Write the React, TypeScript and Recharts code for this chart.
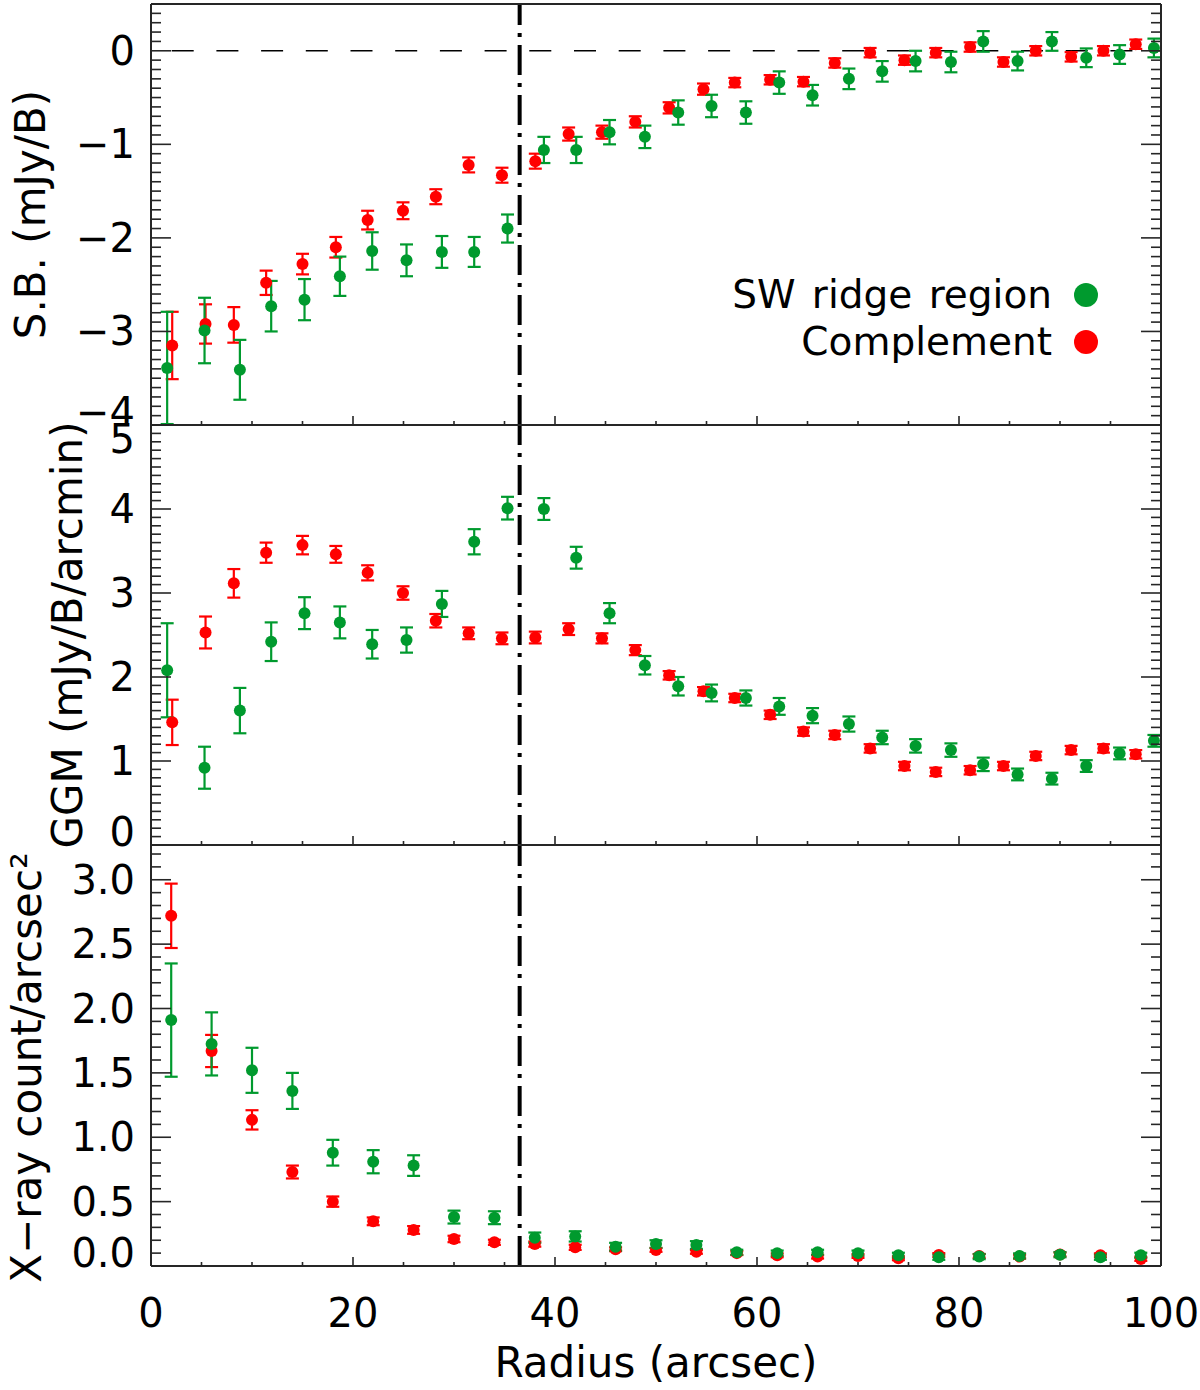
import React from 'react';
import { ScatterChart, Scatter, XAxis, YAxis, ErrorBar, ReferenceLine, Legend } from 'recharts';

const GREEN = '#009a2e';
const RED = '#ff0000';
const INK = '#000000';
const FRAME = '#262626';
const FONT = '"DejaVu Sans", "Liberation Sans", sans-serif';

// ---------- radius (x) values ----------
const greenRadius = [1.6, 5.3, 8.8, 11.9, 15.2, 18.7, 21.9, 25.3, 28.8, 32.0, 35.3, 38.9, 42.1, 45.4, 48.9,
  52.2, 55.5, 58.9, 62.2, 65.5, 69.1, 72.4, 75.7, 79.2, 82.4, 85.8, 89.2, 92.6, 95.9, 99.3];
const redRadius = [2.1, 5.4, 8.2, 11.4, 15.0, 18.3, 21.45, 24.95, 28.2, 31.45, 34.75, 38.05, 41.35, 44.65, 47.95,
  51.3, 54.7, 57.8, 61.3, 64.6, 67.7, 71.2, 74.6, 77.7, 81.1, 84.4, 87.6, 91.1, 94.3, 97.5];
const xrayRadius = [2, 6, 10, 14, 18, 22, 26, 30, 34, 38, 42, 46, 50, 54, 58, 62, 66, 70, 74, 78, 82, 86, 90, 94, 98];

// ---------- panel 1: surface brightness ----------
const sbGreen = [-3.39, -2.99, -3.41, -2.73, -2.66, -2.41, -2.14, -2.24, -2.15, -2.15, -1.90, -1.06, -1.06, -0.87, -0.92,
  -0.66, -0.59, -0.66, -0.34, -0.475, -0.30, -0.22, -0.11, -0.12, 0.10, -0.11, 0.10, -0.075, -0.04, 0.03];
const sbGreenErr = [0.6, 0.35, 0.32, 0.27, 0.22, 0.21, 0.2, 0.17, 0.17, 0.16, 0.15, 0.14, 0.14, 0.13, 0.12,
  0.13, 0.12, 0.12, 0.12, 0.11, 0.11, 0.11, 0.11, 0.11, 0.11, 0.1, 0.1, 0.1, 0.1, 0.1];
const sbRed = [-3.15, -2.92, -2.93, -2.48, -2.28, -2.10, -1.81, -1.71, -1.56, -1.22, -1.33, -1.18, -0.89, -0.87, -0.76,
  -0.61, -0.41, -0.34, -0.31, -0.33, -0.13, -0.02, -0.10, -0.02, 0.04, -0.12, 0.0, -0.065, 0.0, 0.07];
const sbRedErr = [0.36, 0.21, 0.19, 0.13, 0.11, 0.11, 0.1, 0.09, 0.08, 0.08, 0.08, 0.08, 0.07, 0.07, 0.06,
  0.06, 0.06, 0.05, 0.05, 0.05, 0.05, 0.05, 0.05, 0.05, 0.05, 0.05, 0.05, 0.05, 0.05, 0.05];

// ---------- panel 2: GGM ----------
const ggmGreen = [2.08, 0.92, 1.60, 2.42, 2.76, 2.65, 2.39, 2.44, 2.87, 3.61, 4.01, 4.00, 3.42, 2.76, 2.14,
  1.89, 1.81, 1.75, 1.65, 1.54, 1.44, 1.28, 1.18, 1.13, 0.96, 0.84, 0.79, 0.94, 1.09, 1.24];
const ggmGreenErr = [0.56, 0.25, 0.27, 0.23, 0.19, 0.19, 0.17, 0.15, 0.155, 0.15, 0.135, 0.13, 0.13, 0.12, 0.11,
  0.11, 0.1, 0.09, 0.1, 0.09, 0.09, 0.08, 0.08, 0.08, 0.08, 0.07, 0.07, 0.07, 0.07, 0.07];
const ggmRed = [1.46, 2.53, 3.115, 3.48, 3.57, 3.46, 3.24, 3.0, 2.67, 2.52, 2.46, 2.47, 2.57, 2.46, 2.32,
  2.02, 1.83, 1.75, 1.55, 1.35, 1.31, 1.15, 0.94, 0.87, 0.89, 0.94, 1.06, 1.13, 1.15, 1.08];
const ggmRedErr = [0.27, 0.19, 0.17, 0.12, 0.11, 0.1, 0.09, 0.08, 0.08, 0.07, 0.07, 0.07, 0.07, 0.06, 0.06,
  0.05, 0.05, 0.05, 0.05, 0.05, 0.05, 0.05, 0.05, 0.05, 0.05, 0.05, 0.05, 0.05, 0.05, 0.05];

// ---------- panel 3: X-ray ----------
const xrayGreen = [1.91, 1.725, 1.52, 1.36, 0.88, 0.81, 0.78, 0.38, 0.375, 0.22, 0.23, 0.15, 0.17,
  0.163, 0.106, 0.10, 0.106, 0.10, 0.083, 0.068, 0.073, 0.078, 0.088, 0.068, 0.083];
const xrayGreenErr = [0.44, 0.245, 0.175, 0.14, 0.1, 0.09, 0.08, 0.05, 0.05, 0.04, 0.04, 0.03, 0.03,
  0.03, 0.02, 0.02, 0.02, 0.02, 0.02, 0.02, 0.02, 0.02, 0.02, 0.02, 0.02];
const xrayRed = [2.72, 1.67, 1.135, 0.73, 0.5, 0.347, 0.28, 0.21, 0.184, 0.17, 0.145, 0.13, 0.125,
  0.11, 0.1, 0.083, 0.073, 0.078, 0.06, 0.085, 0.078, 0.073, 0.09, 0.083, 0.055];
const xrayRedErr = [0.25, 0.125, 0.075, 0.05, 0.04, 0.03, 0.03, 0.025, 0.02, 0.02, 0.02, 0.015, 0.015,
  0.015, 0.015, 0.015, 0.015, 0.015, 0.015, 0.015, 0.015, 0.015, 0.015, 0.015, 0.015];

// ---------- ticks / labels ----------
const xTicks = [0, 5, 10, 15, 20, 25, 30, 35, 40, 45, 50, 55, 60, 65, 70, 75, 80, 85, 90, 95, 100];
const xLabels = [0, 20, 40, 60, 80, 100];
const sbLabels = [-4, -3, -2, -1, 0];
const ggmLabels = [0, 1, 2, 3, 4, 5];
const xrayLabels = [0, 0.5, 1, 1.5, 2, 2.5, 3];
const sbDomain = [-4, 0.5];
const ggmDomain = [0, 5];
const xrayDomain = [0, 3.27];
const minorStep = 0.1;
const ridgeEdge = 36.5;

const legendItems = [
  { name: 'SW ridge region', color: GREEN },
  { name: 'Complement', color: RED },
];

const rows = (xs: number[], ys: number[], es: number[]) => xs.map((x, i) => ({ x, y: ys[i], err: es[i] }));

const tickRange = (d: number[]) => {
  const out: number[] = [];
  const n = Math.floor((d[1] - d[0]) / minorStep + 1e-6);
  for (let i = 0; i <= n; i++) out.push(Math.round((d[0] + i * minorStep) * 1000) / 1000);
  return out;
};

const near = (a: number, b: number) => Math.abs(a - b) < 1e-6;

const XTick = (props: any) => {
  const { x, y, payload, side, labels } = props;
  const v = payload.value;
  const major = xLabels.some((m) => near(m, v));
  const len = major ? 9 : 4;
  const dir = side === 'top' ? 1 : -1;
  return (
    <g>
      <line x1={x} x2={x} y1={y} y2={y + dir * len} stroke={FRAME} strokeWidth={1.6} />
      {labels && major ? (
        <text x={x} y={y + 47} textAnchor="middle" dominantBaseline="central" fontFamily={FONT} fontSize={40} fill={INK}>
          {v}
        </text>
      ) : null}
    </g>
  );
};

const YTick = (props: any) => {
  const { x, y, payload, side, majors, domain, fmt } = props;
  const v = payload.value;
  const major = majors.some((m: number) => near(m, v));
  const len = major ? 20 : 10;
  const dir = side === 'left' ? 1 : -1;
  let dy = 0;
  if (near(v, domain[0])) dy = -13;
  if (near(v, domain[1])) dy = 14;
  return (
    <g>
      <line x1={x} x2={x + dir * len} y1={y} y2={y} stroke={FRAME} strokeWidth={1.6} />
      {side === 'left' && major ? (
        <text x={x - 16} y={y + dy} textAnchor="end" dominantBaseline="central" fontFamily={FONT} fontSize={40} fill={INK}>
          {fmt(v)}
        </text>
      ) : null}
    </g>
  );
};

const fmtInt = (v: number) => (v < 0 ? '\u2212' + Math.abs(v) : String(v));
const fmtOne = (v: number) => v.toFixed(1);

const yTitle = (text: string, cx: number, shift: number) => (props: any) => {
  const vb = props.viewBox || { y: 0, height: 0 };
  const cy = vb.y + vb.height / 2 + shift;
  return (
    <text x={cx} y={cy} transform={`rotate(-90, ${cx}, ${cy})`} textAnchor="middle" dominantBaseline="central"
      fontFamily={FONT} fontSize={42} fill={INK}>
      {text}
    </text>
  );
};

const xTitle = (props: any) => {
  const vb = props.viewBox || { x: 0, y: 0, width: 0 };
  const cx = vb.x + vb.width / 2;
  return (
    <text x={cx} y={vb.y + 96} textAnchor="middle" dominantBaseline="central" fontFamily={FONT} fontSize={42} fill={INK}>
      Radius (arcsec)
    </text>
  );
};

const renderLegend = () => (
  <div style={{ fontFamily: FONT, fontSize: 39, color: INK, lineHeight: '47px' }}>
    {legendItems.map((it) => (
      <div key={it.name} style={{ display: 'flex', justifyContent: 'flex-end', alignItems: 'center', whiteSpace: 'nowrap' }}>
        <span style={{ wordSpacing: 4 }}>{it.name}</span>
        <span style={{ display: 'inline-block', width: 24, height: 24, borderRadius: 12, background: it.color, marginLeft: 22 }} />
      </div>
    ))}
  </div>
);

const dot = (color: string) => (p: any) => <circle cx={p.cx} cy={p.cy} r={6} fill={color} />;

type PanelOpts = {
  top: number;
  topH: number;
  plotH: number;
  bottomH: number;
  domain: number[];
  majors: number[];
  fmt: (v: number) => string;
  green: any[];
  red: any[];
  title: string;
  titleX: number;
  titleShift: number;
  bottomLabels: boolean;
  zeroLine?: boolean;
  legend?: boolean;
};

const panel = (o: PanelOpts) => {
  const yTicks = tickRange(o.domain);
  return (
    <div style={{ position: 'absolute', left: 0, top: o.top, width: 1200 }}>
      <ScatterChart width={1200} height={o.topH + o.plotH + o.bottomH} margin={{ top: 0, right: 0, bottom: 0, left: 0 }}>
        <XAxis xAxisId="b" orientation="bottom" type="number" dataKey="x" domain={[0, 100]} allowDataOverflow
          ticks={xTicks} interval={0} tickSize={0} tickMargin={0} tickLine={false} height={o.bottomH}
          axisLine={{ stroke: FRAME, strokeWidth: 2 }}
          tick={(p: any) => <XTick {...p} side="bottom" labels={o.bottomLabels} />}
          label={o.bottomLabels ? xTitle : undefined} />
        <XAxis xAxisId="t" orientation="top" type="number" domain={[0, 100]} allowDataOverflow
          ticks={xTicks} interval={0} tickSize={0} tickMargin={0} tickLine={false} height={o.topH}
          axisLine={{ stroke: FRAME, strokeWidth: 2 }}
          tick={(p: any) => <XTick {...p} side="top" labels={false} />} />
        <YAxis yAxisId="l" orientation="left" type="number" dataKey="y" domain={o.domain} allowDataOverflow
          ticks={yTicks} interval={0} tickSize={0} tickMargin={0} tickLine={false} width={151}
          axisLine={{ stroke: FRAME, strokeWidth: 2 }}
          tick={(p: any) => <YTick {...p} side="left" majors={o.majors} domain={o.domain} fmt={o.fmt} />}
          label={yTitle(o.title, o.titleX, o.titleShift)} />
        <YAxis yAxisId="r" orientation="right" type="number" domain={o.domain} allowDataOverflow
          ticks={yTicks} interval={0} tickSize={0} tickMargin={0} tickLine={false} width={39}
          axisLine={{ stroke: FRAME, strokeWidth: 2 }}
          tick={(p: any) => <YTick {...p} side="right" majors={o.majors} domain={o.domain} fmt={o.fmt} />} />
        {o.zeroLine ? (
          <ReferenceLine xAxisId="b" yAxisId="l" y={0} stroke={INK} strokeWidth={1.5} strokeDasharray="22 22.7" strokeDashoffset={24} />
        ) : null}
        <ReferenceLine xAxisId="b" yAxisId="l" x={ridgeEdge} stroke={INK} strokeWidth={4} strokeDasharray="30 8 4 8" />
        <Scatter name="Complement" xAxisId="b" yAxisId="l" data={o.red} isAnimationActive={false} shape={dot(RED)}>
          <ErrorBar dataKey="err" direction="y" width={6.5} stroke={RED} strokeWidth={2.2} isAnimationActive={false} />
        </Scatter>
        <Scatter name="SW ridge region" xAxisId="b" yAxisId="l" data={o.green} isAnimationActive={false} shape={dot(GREEN)}>
          <ErrorBar dataKey="err" direction="y" width={6.5} stroke={GREEN} strokeWidth={2.2} isAnimationActive={false} />
        </Scatter>
        {o.legend ? (
          <Legend layout="horizontal" align="center" verticalAlign="middle" content={renderLegend}
            wrapperStyle={{ top: 271, right: 102, left: 'auto', width: 'auto', height: 'auto' }} />
        ) : null}
      </ScatterChart>
    </div>
  );
};

export default function App() {
  return (
    <div style={{ position: 'absolute', left: 0, top: 0, width: 1200, height: 1390, background: '#fff' }}>
      {panel({
        top: 0, topH: 4, plotH: 421, bottomH: 30, domain: sbDomain, majors: sbLabels, fmt: fmtInt,
        green: rows(greenRadius, sbGreen, sbGreenErr), red: rows(redRadius, sbRed, sbRedErr),
        title: 'S.B.  (mJy/B)', titleX: 30, titleShift: 0, bottomLabels: false, zeroLine: true, legend: true,
      })}
      {panel({
        top: 395, topH: 30, plotH: 420, bottomH: 30, domain: ggmDomain, majors: ggmLabels, fmt: fmtInt,
        green: rows(greenRadius, ggmGreen, ggmGreenErr), red: rows(redRadius, ggmRed, ggmRedErr),
        title: 'GGM  (mJy/B/arcmin)', titleX: 67, titleShift: 0, bottomLabels: false,
      })}
      {panel({
        top: 815, topH: 30, plotH: 421, bottomH: 124, domain: xrayDomain, majors: xrayLabels, fmt: fmtOne,
        green: rows(xrayRadius, xrayGreen, xrayGreenErr), red: rows(xrayRadius, xrayRed, xrayRedErr),
        title: 'X\u2212ray  count/arcsec\u00B2', titleX: 26, titleShift: 12, bottomLabels: true,
      })}
    </div>
  );
}
